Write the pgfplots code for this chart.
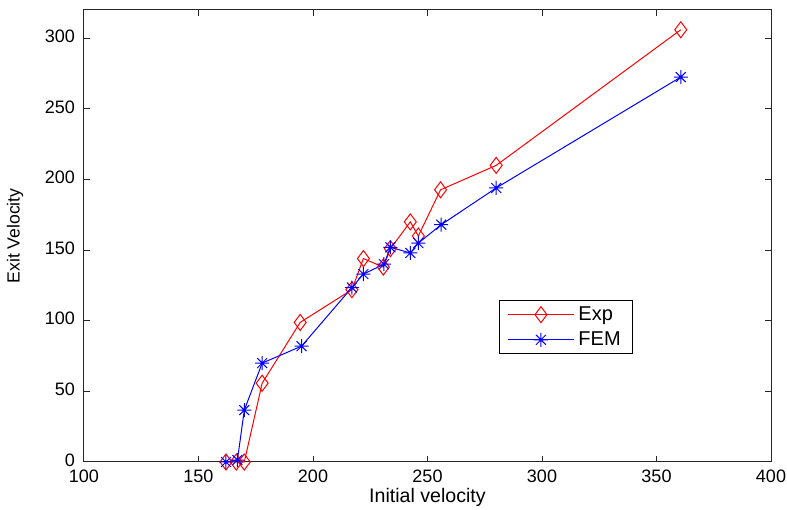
\documentclass[border=0pt]{standalone}
\usepackage{pgfplots}
\pgfplotsset{compat=1.18}
\usepackage{fontspec}
\setmainfont{Liberation Sans}

% MATLAB-style asterisk: + and x together
\pgfdeclareplotmark{mstar}{%
  \pgfpathmoveto{\pgfqpoint{-\pgfplotmarksize}{0pt}}%
  \pgfpathlineto{\pgfqpoint{\pgfplotmarksize}{0pt}}%
  \pgfpathmoveto{\pgfqpoint{0pt}{-\pgfplotmarksize}}%
  \pgfpathlineto{\pgfqpoint{0pt}{\pgfplotmarksize}}%
  \pgfpathmoveto{\pgfqpoint{-0.707\pgfplotmarksize}{-0.707\pgfplotmarksize}}%
  \pgfpathlineto{\pgfqpoint{0.707\pgfplotmarksize}{0.707\pgfplotmarksize}}%
  \pgfpathmoveto{\pgfqpoint{-0.707\pgfplotmarksize}{0.707\pgfplotmarksize}}%
  \pgfpathlineto{\pgfqpoint{0.707\pgfplotmarksize}{-0.707\pgfplotmarksize}}%
  \pgfusepathqstroke}

\begin{document}
\begin{tikzpicture}
\begin{axis}[
  scale only axis,
  width=343.5pt, height=226pt,
  xmin=100, xmax=400,
  ymin=0, ymax=320,
  xtick={100,150,...,400},
  ytick={0,50,...,300},
  tick align=inside,
  major tick length=3pt,
  axis line style={black!85, line width=0.5pt},
  every tick/.style={black!85, line width=0.5pt},
  font=\fontsize{9}{11}\selectfont,
  /pgf/number format/assume math mode=true,
  xticklabel style={anchor=base, yshift=-10.3pt},
  yticklabel style={anchor=east, xshift=-1pt, yshift=1pt},
  xlabel={Initial velocity},
  ylabel={Exit Velocity},
  every axis x label/.style={at={(rel axis cs:0.5,0)}, anchor=base, yshift=-20.5pt,
    font=\fontsize{9.8}{11}\selectfont},
  every axis y label/.style={at={(rel axis cs:0,0.5)}, anchor=center, xshift=-34.5pt, rotate=90,
    font=\fontsize{8.8}{11}\selectfont},
  clip=false,
  legend cell align=left,
  legend style={at={(rel axis cs:0.604,0.358)}, anchor=north west,
    draw=black, fill=white, line width=0.5pt,
    font=\fontsize{10}{12}\selectfont,
    inner xsep=4pt, inner ysep=2pt, row sep=2.6pt,
    nodes={inner ysep=0.8pt}},
  legend image code/.code={%
    \draw[mark repeat=2, mark phase=2] plot coordinates {(0pt,0pt) (16.5pt,0pt) (33pt,0pt)};},
]
\coordinate (bl) at (rel axis cs:0,0);
\coordinate (tr) at (rel axis cs:1,1);
\addplot[color=red, line width=0.5pt, mark=diamond, mark size=4pt, mark options={solid, fill=none}]
coordinates {(162,0)(166.5,0)(170,0)(177.8,55.8)(194.4,98.8)(217,122)(222,144)(230.7,138)(233.8,151)(242.5,170)(246,160)(255.7,192.7)(280,210)(360.6,306)};
\addlegendentry{Exp}
\addplot[color=blue, line width=0.5pt, mark=mstar, mark size=3.5pt, mark options={solid}]
coordinates {(162,0)(167,1.4)(170,36.7)(177.8,70)(195,82)(217,123.5)(222,133)(231,140)(233.8,152)(242.5,148)(246,155)(256,168)(280,194)(360.6,272.5)};
\addlegendentry{FEM}
\end{axis}
\pgfresetboundingbox
\path ([xshift=-42pt,yshift=-24pt]bl) rectangle ([xshift=8pt,yshift=5pt]tr);
\end{tikzpicture}
\end{document}
